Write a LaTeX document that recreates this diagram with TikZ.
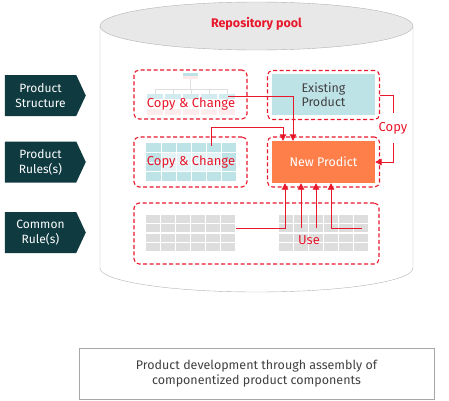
\documentclass[tikz,border=0pt]{standalone}
\usepackage{fontspec}
\setmainfont{Fira Sans}
\usetikzlibrary{shapes.symbols,arrows.meta}

\definecolor{poolred}{RGB}{232,24,44}
\definecolor{tagteal}{RGB}{14,58,64}
\definecolor{prodteal}{RGB}{190,227,231}
\definecolor{cellteal}{RGB}{228,244,246}
\definecolor{newor}{RGB}{255,127,74}
\definecolor{cellgray}{RGB}{221,221,221}

\tikzset{
  dbox/.style={draw=poolred, line width=1.1pt, dash pattern=on 4pt off 2.5pt,
    rounded corners=5pt, inner sep=0pt},
  tag/.style={signal, signal to=east, signal pointer angle=130, fill=tagteal,
    text=white, minimum width=81pt, minimum height=41pt, inner sep=0pt,
    align=center, font=\fontsize{12}{15}\selectfont},
  redtxt/.style={text=poolred, font=\fontsize{13}{15}\selectfont},
  redline/.style={draw=poolred, line width=0.9pt},
  arr/.style={redline, -{Triangle[length=6.5pt,width=6.5pt]}}
}

\begin{document}
\begin{tikzpicture}[x=1pt, y=-1pt]
    \useasboundingbox (0,0) rectangle (449,400);

    % Cilindro - repository pool
    \draw[gray!60, fill=white] (100,26) -- (100,268)
        arc[start angle=180, end angle=0, x radius=156.5, y radius=24] -- (413,26);
    \draw[gray!60, fill=gray!18] (256.5,26) ellipse[x radius=156.5, y radius=24];
    \node[text=poolred, font=\bfseries\fontsize{12.5}{14}\selectfont] (pool) at (256.5,24) {Repository pool};

    % Etichette a sinistra
    \node[tag] (tagS) at (40.5,95.5) {Product\\Structure};
    \node[tag] (tagR) at (40.5,162) {Product\\Rules(s)};
    \node[tag] (tagC) at (40.5,232.5) {Common\\Rule(s)};

    % Riquadri tratteggiati
    \node[dbox, minimum width=113pt, minimum height=49pt] (sbox) at (190.5,94.5) {};
    \node[dbox, minimum width=112pt, minimum height=49pt] (ebox) at (323.5,95) {};
    \node[dbox, minimum width=113pt, minimum height=50pt] (rbox) at (190.5,162) {};
    \node[dbox, minimum width=112pt, minimum height=50pt] (nbox) at (323.5,162) {};
    \node[dbox, minimum width=245pt, minimum height=61pt] (cbox) at (256.5,233.5) {};

    % Prodotti
    \node[fill=prodteal, minimum width=103pt, minimum height=41pt, align=center,
        text=black!75, font=\fontsize{12.5}{14.5}\selectfont] (exist) at (323.5,94.5) {Existing\\Product};
    \node[fill=newor, minimum width=103pt, minimum height=42pt,
        text=white, font=\fontsize{12.5}{14}\selectfont] (newp) at (323.5,162) {New Prodict};

    % Struttura ad albero (sbiadita)
    \fill[prodteal] (183,73) rectangle (198,76);
    \fill[pink!35] (183,76) rectangle (198,79);
    \draw[gray!25] (190.5,79) -- (190.5,89);
    \draw[gray!25] (155,89) -- (227,89);
    \foreach \c in {0,...,4} {
        \draw[gray!25] (155+\c*18,89) -- ++(0,5);
        \fill[prodteal!70] (147+\c*18,94) rectangle ++(16,5);
        \fill[pink!30] (147+\c*18,109) rectangle ++(16,6);
    }
    \node[redtxt] (chgS) at (191,104) {Copy \& Change};

    % Griglia regole prodotto
    \fill[prodteal] (146,143) rectangle (236,181);
    \fill[cellteal] (161,152.5) rectangle (221,171.5);
    \foreach \c in {1,...,5}
        \draw[white, line width=1pt] (146+\c*15,143) -- ++(0,38);
    \foreach \r in {1,2,3}
        \draw[white, line width=1pt] (146,143+\r*9.5) -- ++(90,0);
    \node[redtxt] (chgR) at (191,162) {Copy \& Change};

    % Griglie regole comuni
    \foreach \c in {0,...,5} {
        \foreach \r in {0,...,3} {
            \fill[cellgray] (146+\c*15,215+\r*9.4) rectangle ++(13.5,8);
            \fill[cellgray] (279+\c*15,215+\r*9.4) rectangle ++(13.5,8);
        }
    }
    \node[redtxt] (use) at (309,240) {Use};

    % Frecce Copy & Change
    \coordinate (s1) at (228,96);
    \coordinate (s2) at (211,146);
    \draw[arr] (s1) -| ([xshift=-30.5pt]newp.north);
    \draw[arr] (s2) -- ++(0,-19) -| ([xshift=-40.5pt]newp.north);

    % Freccia Copy
    \node[redtxt, inner ysep=9pt] (copy) at (393,128) {Copy};
    \draw[redline] (ebox.east) -| (copy.north);
    \draw[arr] (copy.south) |- (newp.east);

    % Frecce Use
    \coordinate (u1) at (236,228);
    \coordinate (u2) at (301,228);
    \coordinate (u3) at (316,228);
    \coordinate (u4) at (362,228);
    \draw[arr] (u1) -| ([xshift=-38.5pt]newp.south);
    \draw[arr] (u2) -- (u2 |- newp.south);
    \draw[arr] (u3) -- (u3 |- newp.south);
    \draw[arr] (u4) -| ([xshift=7.5pt]newp.south);

    % Didascalia
    \node[draw=gray!70, minimum width=355pt, minimum height=51pt, align=center,
        text=black!75, font=\fontsize{12.5}{15.5}\selectfont] (cap) at (256.5,373.5)
        {Product development through assembly of\\componentized product components};

\end{tikzpicture}
\end{document}
